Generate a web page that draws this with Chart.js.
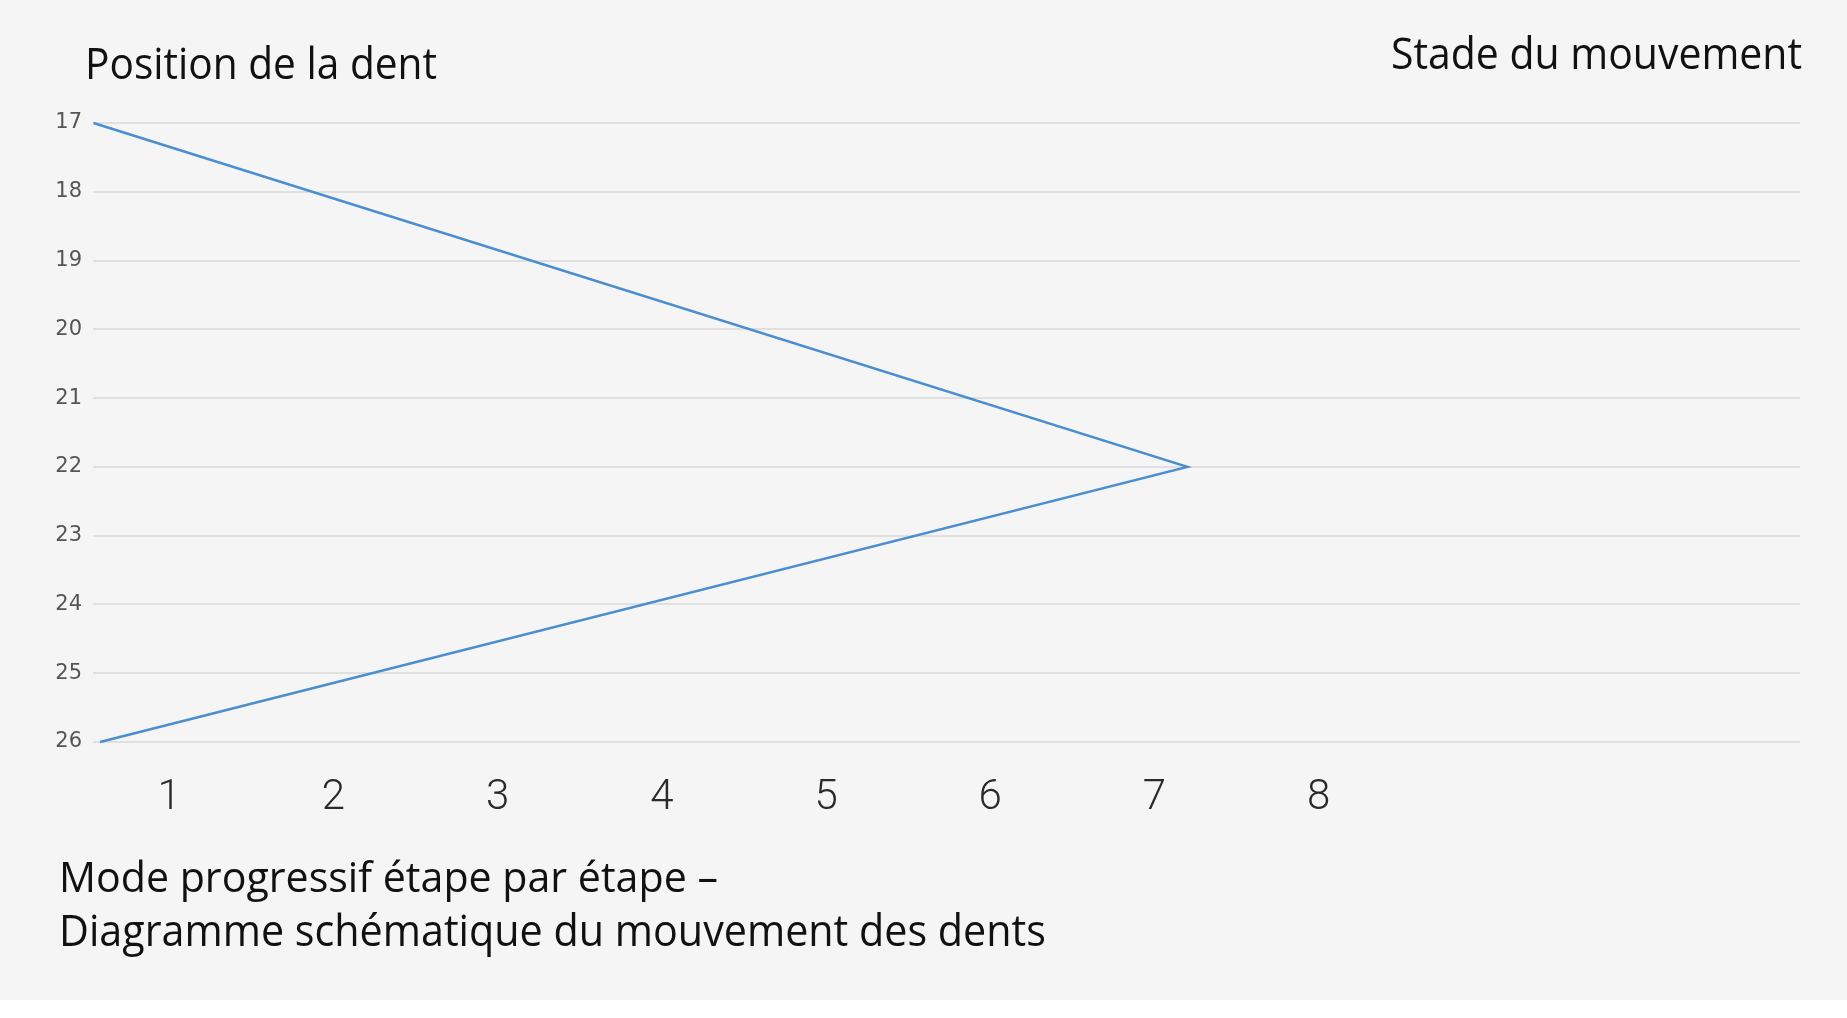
<!DOCTYPE html>
<html>
<head>
<meta charset="utf-8">
<script src="https://cdn.jsdelivr.net/npm/chart.js@4.4.1/dist/chart.umd.min.js"></script>
<style>
  html, body { margin: 0; padding: 0; background: #ffffff; }
  #page { position: relative; width: 1847px; height: 1018px; overflow: hidden; }
  #bg { position: absolute; left: 0; top: 0; width: 1847px; height: 1000px; background: #f5f5f5; }
  #wrap { position: absolute; left: 0; top: 0; width: 1847px; height: 1018px; }
  .cap { position: absolute; white-space: nowrap; font-family: "Open Sans", "Noto Sans", sans-serif;
         color: #111; line-height: 1.2; transform-origin: 0 0; }
  .bl { display: inline-block; width: 0; height: 0; vertical-align: baseline; }
</style>
</head>
<body>
<div id="page">
  <div id="bg"></div>
  <div id="wrap"><canvas id="c"></canvas></div>
  <div class="cap" id="t1" data-x="85" data-w="352" data-b="79" style="font-size:43px">Position de la dent<span class="bl"></span></div>
  <div class="cap" id="t2" data-x="1391" data-w="411" data-b="69" style="font-size:44px">Stade du mouvement<span class="bl"></span></div>
  <div class="cap" id="t3" data-x="59" data-w="659" data-b="892" style="font-size:42px">Mode progressif étape par étape –<span class="bl"></span></div>
  <div class="cap" id="t4" data-x="59" data-w="987" data-b="946" style="font-size:43px">Diagramme schématique du mouvement des dents<span class="bl"></span></div>
</div>
<script>
// ---- data ----
const stageX = [0.54, 7.2, 0.58];          // movement stage (x)
const toothPosition = [17, 22, 26];        // tooth position (y)
const xTickLabels = [1, 2, 3, 4, 5, 6, 7, 8];
const yTickLabels = [17, 18, 19, 20, 21, 22, 23, 24, 25, 26];

const points = stageX.map((x, i) => ({ x: x, y: toothPosition[i] }));

function placeCaptions() {
  document.querySelectorAll('.cap').forEach(el => {
    el.style.left = '0px';
    el.style.top = '0px';
    el.style.transform = 'none';
    const r = el.getBoundingClientRect();
    const base = el.querySelector('.bl').getBoundingClientRect().top - r.top;
    const sx = parseFloat(el.dataset.w) / r.width;
    el.style.left = el.dataset.x + 'px';
    el.style.top = (parseFloat(el.dataset.b) - base) + 'px';
    el.style.transform = 'scaleX(' + sx + ')';
  });
}

function build() {
  placeCaptions();
  new Chart(document.getElementById('c'), {
    type: 'line',
    data: {
      datasets: [{
        data: points,
        borderColor: '#4a8dd0',
        borderWidth: 2.5,
        pointRadius: 0,
        tension: 0,
        fill: false,
        clip: 6
      }]
    },
    options: {
      responsive: true,
      maintainAspectRatio: false,
      animation: false,
      layout: { padding: { left: 0, top: 123, right: 47, bottom: 176 } },
      plugins: { legend: { display: false }, tooltip: { enabled: false }, title: { display: false } },
      scales: {
        x: {
          type: 'linear',
          min: 0.537,
          max: 10.93,
          grid: { display: false, drawTicks: false },
          border: { display: false },
          afterBuildTicks: axis => { axis.ticks = xTickLabels.map(v => ({ value: v })); },
          afterFit: axis => { axis.height = 100; },
          ticks: {
            autoSkip: false,
            maxRotation: 0,
            padding: 31,
            color: '#2a2a2a',
            font: { family: 'Roboto', size: 42, weight: 300 },
            callback: v => String(v)
          }
        },
        y: {
          type: 'linear',
          reverse: true,
          min: 17,
          max: 26,
          afterBuildTicks: axis => { axis.ticks = yTickLabels.map(v => ({ value: v })); },
          afterFit: axis => { axis.width = 93; },
          grid: { color: '#e0e0e0', lineWidth: 2, drawTicks: false },
          border: { display: false },
          ticks: {
            autoSkip: false,
            padding: 11,
            color: '#555555',
            font: { family: 'DejaVu Sans', size: 21 },
            callback: v => String(v)
          }
        }
      }
    }
  });
}

if (document.fonts && document.fonts.ready) {
  document.fonts.ready.then(build);
} else {
  build();
}
</script>
</body>
</html>
